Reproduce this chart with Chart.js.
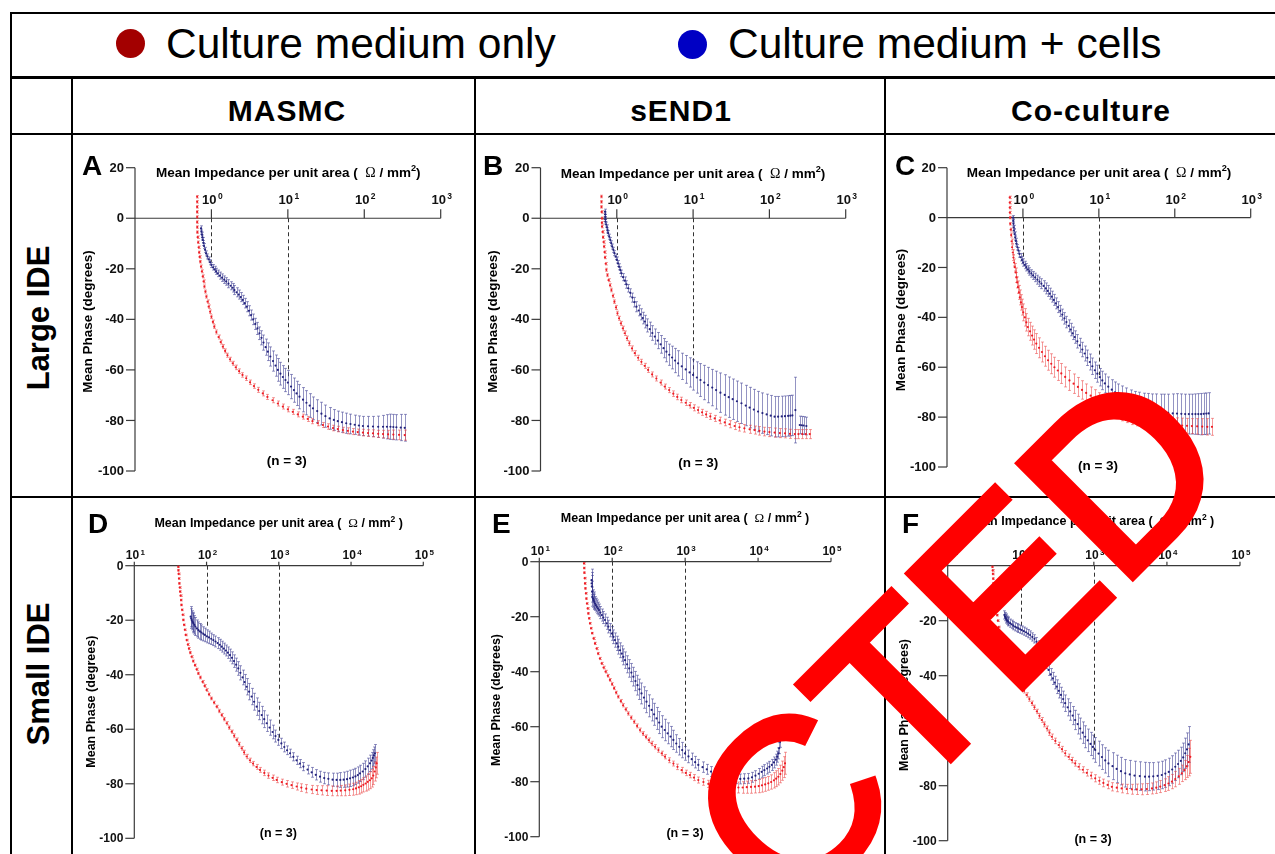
<!DOCTYPE html>
<html><head><meta charset="utf-8">
<script src="https://cdn.jsdelivr.net/npm/chart.js@4.4.1/dist/chart.umd.min.js"></script>
<style>
body{margin:0;background:#fff}
#page{position:relative;width:1275px;height:854px;overflow:hidden;background:#fff;font-family:'Liberation Sans',Arial,sans-serif;color:#000}
.ln{position:absolute;background:#000;z-index:5}
canvas.pc{position:absolute;z-index:2}
.hdr{position:absolute;font-weight:bold;font-size:30px;line-height:1;white-space:nowrap;transform:translateX(-50%);letter-spacing:1px}
.row{position:absolute;font-weight:bold;font-size:31px;line-height:1;white-space:nowrap;transform:translate(-50%,-50%) rotate(-90deg)}
.leg{position:absolute;font-size:42.5px;line-height:1;white-space:nowrap}
.dot{position:absolute;width:29px;height:29px;border-radius:50%}
</style></head>
<body><div id="page">
<div class="ln" style="left:10px;top:12px;width:1265px;height:2px"></div>
<div class="ln" style="left:10px;top:12px;width:2px;height:842px"></div>
<div class="ln" style="left:10px;top:76px;width:1265px;height:2.5px"></div>
<div class="ln" style="left:10px;top:133px;width:1265px;height:2px"></div>
<div class="ln" style="left:10px;top:496px;width:1265px;height:2px"></div>
<div class="ln" style="left:71px;top:77px;width:2px;height:777px"></div>
<div class="ln" style="left:474px;top:77px;width:2px;height:777px"></div>
<div class="ln" style="left:884px;top:77px;width:2px;height:777px"></div>
<div class="dot" style="left:116px;top:29px;background:#a30000"></div>
<div class="leg" id="leg0" style="left:166px;top:23px"></div>
<div class="dot" style="left:678px;top:29.5px;background:#0000c4"></div>
<div class="leg" id="leg1" style="left:728px;top:23px"></div>
<div class="hdr" id="h0" style="left:287px;top:96px"></div>
<div class="hdr" id="h1" style="left:681px;top:96px"></div>
<div class="hdr" id="h2" style="left:1091px;top:96px"></div>
<div class="row" id="r0" style="left:38px;top:318px"></div>
<div class="row" id="r1" style="left:38px;top:674px"></div>
<canvas class="pc" id="cA"></canvas><canvas class="pc" id="cB"></canvas><canvas class="pc" id="cC"></canvas>
<canvas class="pc" id="cD"></canvas><canvas class="pc" id="cE"></canvas><canvas class="pc" id="cF"></canvas>
<svg width="1275" height="854" style="position:absolute;left:0;top:0;z-index:10;pointer-events:none">
<text id="stamp" transform="translate(788.4,921.6) rotate(-45)" font-family="Liberation Sans, Arial, sans-serif" font-size="234" fill="#ff0000" stroke="#ff0000" stroke-width="7"></text>
</svg>
</div>
<script>
// ================= DATA =================
const seriesLabels = ['Culture medium only', 'Culture medium + cells'];
const columnLabels = ['MASMC', 'sEND1', 'Co-culture'];
const rowLabels = ['Large IDE', 'Small IDE'];
const panelLetters = ['A', 'B', 'C', 'D', 'E', 'F'];
const yTicksLarge = [20, 0, -20, -40, -60, -80, -100];
const yTicksSmall = [0, -20, -40, -60, -80, -100];
const xExpLarge = [0, 1, 2, 3];
const xExpSmall = [1, 2, 3, 4, 5];
const xAxisTitle = 'Mean Impedance per unit area';
const yAxisTitle = 'Mean Phase (degrees)';
const nLabel = '(n = 3)';
const stampText = 'CTED';

// rows: [impedance (Ω/mm²), mean phase (deg), error (deg)]
const aMedium = [[0.65,8.5,.5],[0.65,6.5,.5],[0.65,4.5,.5],[0.65,2.5,.5],[0.65,0.5,.5],[0.65,-1.5,.5],[0.652,-3.5,.5],[0.655,-5.5,.5],[0.66,-7.5,.5],[0.67,-9.5,.5],[0.68,-11.5,.5],[0.69,-13.5,.5],[0.70,-15.3,.5],[0.715,-17.2,.5],[0.73,-19.1,.6],[0.75,-21,.6],[0.77,-23,.6],[0.79,-25,.6],[0.81,-27,.6],[0.835,-29,.6],[0.86,-31,.6],[0.89,-33,.7],[0.92,-35,.7],[0.96,-37,.7],[1.0,-39,.7],[1.045,-41,.7],[1.09,-42.9,.7],[1.16,-45,.8],[1.24,-47,.8],[1.32,-49,.8],[1.41,-50.8,.8],[1.51,-52.5,.8],[1.62,-54.2,.8],[1.75,-55.8,.8],[1.9,-57.4,.8],[2.08,-59,.9],[2.3,-60.5,.9],[2.55,-62,.9],[2.85,-63.3,.9],[3.2,-64.9,.9],[3.6,-66.4,.9],[4.1,-67.9,1],[4.7,-69.3,1],[5.4,-70.7,1],[6.3,-72,1],[7.4,-73.3,1],[8.6,-74.5,1],[10,-75.6,1],[11.6,-76.6,1],[13.5,-77.6,1],[15.7,-78.5,1],[18.2,-79.4,1],[21,-80.3,1],[24.5,-81.1,1],[28.8,-81.8,1],[33.5,-82.4,1.1],[39,-83,1.1],[45,-83.4,1.1],[52.5,-83.8,1.1],[61,-84.1,1.2],[71,-84.4,1.2],[82,-84.6,1.2],[96,-84.8,1.3],[112,-85,1.3],[130,-85.1,1.4],[152,-85.3,1.4],[176,-85.4,1.5],[205,-85.5,1.6],[240,-85.6,1.8],[285,-85.7,1.9],[338,-85.8,2]];
const aCells = [[0.73,-4,1],[0.74,-5.3,1],[0.75,-6.5,1],[0.76,-7.6,1],[0.77,-8.6,1],[0.785,-9.8,1],[0.80,-11,1],[0.825,-12.5,1],[0.85,-13.9,1],[0.885,-15.1,1],[0.92,-16.3,1],[0.96,-17.4,1],[1.0,-18.5,1],[1.05,-19.4,1.1],[1.1,-20.2,1.2],[1.15,-21,1.2],[1.21,-21.8,1.3],[1.29,-22.7,1.4],[1.38,-23.5,1.5],[1.47,-24.3,1.5],[1.56,-25,1.5],[1.67,-25.9,1.6],[1.78,-26.7,1.6],[1.89,-27.5,1.7],[2.0,-28.4,1.8],[2.13,-29.3,1.8],[2.27,-30.2,1.8],[2.42,-31.2,1.8],[2.57,-32.3,1.8],[2.73,-33.6,1.9],[2.9,-35,2],[3.1,-36.6,2],[3.3,-38.3,2],[3.52,-40,2.1],[3.75,-41.8,2.2],[4.0,-43.6,2.4],[4.25,-45.5,2.5],[4.52,-47.3,2.8],[4.8,-49.2,3],[5.12,-51,3.2],[5.47,-52.8,3.5],[5.9,-54.7,3.8],[6.4,-56.5,4],[6.9,-58.3,4.2],[7.4,-60,4.5],[8.0,-61.5,4.5],[8.6,-62.8,4.5],[9.3,-64,4.6],[10,-65,4.8],[11,-66.6,4.8],[12,-68,4.8],[13,-69.3,4.8],[14.2,-70.6,4.8],[15.8,-71.8,4.8],[17.5,-73,4.8],[19.3,-74.1,4.7],[21.3,-75.2,4.5],[24.2,-76.3,4.5],[27.5,-77.3,4.5],[31,-78.3,4.4],[35.2,-79.2,4.3],[40,-79.8,4.1],[45,-80.3,4],[51,-80.7,4],[58,-81.1,4],[66,-81.4,3.9],[75,-81.7,3.8],[85,-82,3.8],[96,-82.2,3.8],[112,-82.3,3.9],[130,-82.4,4],[152,-82.5,4.2],[176,-82.5,4.5],[198,-82.5,4.8],[220,-82.5,5],[240,-82.6,5],[263,-82.7,5],[300,-82.8,5.2],[338,-82.9,5.3]];
const aDashX = [1, 10];
const aDashY = [-17.2, -62.7];

const bMedium = [[0.63,8.6,.5],[0.63,6.5,.5],[0.63,4.5,.5],[0.632,2.5,.5],[0.635,0,.5],[0.637,-1.8,.5],[0.64,-3.3,.5],[0.65,-5.4,.5],[0.66,-7.5,.5],[0.67,-9.4,.5],[0.68,-11.2,.5],[0.69,-13.4,.5],[0.70,-15.5,.5],[0.715,-18,.5],[0.73,-20.4,.6],[0.755,-22.5,.6],[0.78,-24.5,.6],[0.815,-26.5,.6],[0.85,-28.4,.7],[0.89,-30.7,.7],[0.93,-33,.7],[0.975,-35.3,.8],[1.02,-37.6,.8],[1.07,-39.6,.8],[1.13,-41.6,.8],[1.2,-43.6,.9],[1.27,-45.5,.9],[1.36,-47.5,.9],[1.46,-49.5,.9],[1.58,-51.5,1],[1.72,-53.4,1],[1.9,-55.2,1],[2.1,-56.8,1],[2.32,-58.4,1],[2.57,-60,1],[2.9,-61.8,1],[3.3,-63.4,1],[3.75,-65,1],[4.25,-66.6,1],[4.85,-68,1],[5.5,-69.4,1.1],[6.2,-70.7,1.1],[7,-71.9,1.1],[8,-73,1.1],[9,-74,1.1],[10.2,-75,1.2],[11.6,-75.9,1.2],[13.1,-76.8,1.2],[14.8,-77.6,1.2],[16.8,-78.4,1.2],[19.2,-79.2,1.2],[22.3,-80,1.3],[26,-80.8,1.3],[30,-81.5,1.4],[35,-82.2,1.4],[40.5,-82.7,1.5],[47,-83.1,1.5],[55,-83.5,1.6],[64,-83.8,1.6],[74,-84.1,1.7],[86,-84.4,1.7],[100,-84.6,1.8],[117,-84.8,1.8],[137,-85,1.8],[160,-85.1,1.8],[186,-85.3,1.8],[215,-85.4,1.8],[240,-85.4,1.8],[270,-85.4,1.8],[300,-85.4,1.8],[338,-85.4,1.8]];
const bCells = [[0.70,2.6,1],[0.702,1.5,1],[0.705,0.5,1],[0.708,-0.4,1],[0.71,-1.3,1],[0.725,-2.5,1],[0.74,-3.6,1],[0.755,-4.8,1],[0.77,-5.9,1],[0.795,-7.3,1],[0.82,-8.6,1],[0.845,-9.9,1],[0.87,-11.2,1],[0.9,-12.5,1],[0.93,-13.8,1],[0.965,-15.2,1.1],[1.0,-16.5,1.2],[1.035,-17.9,1.2],[1.07,-19.2,1.2],[1.11,-20.5,1.3],[1.15,-21.8,1.3],[1.21,-23.3,1.4],[1.27,-24.7,1.5],[1.34,-26.2,1.5],[1.41,-27.7,1.5],[1.5,-29.5,1.6],[1.6,-31.4,1.8],[1.7,-33.2,1.9],[1.81,-35,2],[1.93,-36.5,2.1],[2.05,-38,2.2],[2.19,-39.5,2.3],[2.33,-40.9,2.5],[2.5,-42.4,2.6],[2.7,-43.9,2.8],[2.92,-45.4,2.9],[3.15,-46.8,3],[3.44,-48.4,3.2],[3.75,-49.9,3.5],[4.1,-51.4,3.8],[4.47,-52.8,4],[4.87,-54,4.2],[5.3,-55.1,4.5],[5.8,-56.3,4.8],[6.36,-57.4,5],[7.1,-58.6,5.2],[8,-59.8,5.5],[9,-61,5.8],[10,-62,6],[11.2,-63,6.2],[12.5,-64,6.5],[14,-65,6.8],[15.7,-66,7],[17.8,-67,7.2],[20,-68,7.5],[22.8,-69,7.8],[26,-69.9,8],[29.3,-70.8,8],[33,-71.6,8],[37.5,-72.4,8],[43,-73.2,8],[49,-74.1,8],[55,-74.9,8],[62.5,-75.7,8],[71,-76.5,8],[81,-77.1,8],[92,-77.6,8],[104,-78.1,8],[117,-78.5,8],[130,-78.5,8],[145,-78.4,8],[160,-78.3,8],[176,-78.2,8],[188,-78.1,8],[200,-78,8],[219,-75.9,13],[250,-81.8,3.5],[265,-81.9,3.5],[280,-82,3.5],[305,-82.2,3.5]];
const bDashX = [1, 10];
const bDashY = [-14.5, -62.7];

const cMedium = [[0.67,8.1,.5],[0.67,6,.5],[0.67,4,.5],[0.672,2,.5],[0.675,0,.5],[0.68,-2.5,.5],[0.69,-4.8,.6],[0.70,-7,.8],[0.71,-9.5,.9],[0.72,-11.9,1],[0.735,-14,1.1],[0.75,-16,1.2],[0.765,-18,1.4],[0.78,-19.9,1.5],[0.80,-22,1.8],[0.82,-24,2],[0.84,-26,2.2],[0.86,-27.9,2.5],[0.885,-30,2.8],[0.91,-32,3],[0.94,-34,3.1],[0.97,-35.9,3.2],[1.01,-38,3.4],[1.06,-40,3.5],[1.11,-42,3.5],[1.16,-43.9,3.5],[1.24,-45.6,3.6],[1.32,-47.3,3.8],[1.4,-48.9,3.9],[1.5,-50.5,4],[1.63,-52.2,4],[1.78,-53.9,4],[1.95,-55.6,4],[2.14,-57.2,4],[2.36,-58.6,4],[2.6,-60,4],[2.88,-61.3,4],[3.2,-62.5,4],[3.6,-63.9,4],[4.1,-65.3,4],[4.65,-66.6,3.9],[5.3,-67.9,3.8],[6,-69.1,3.7],[6.8,-70.3,3.6],[7.8,-71.4,3.5],[8.85,-72.5,3.5],[10,-73.6,3.4],[11.4,-74.6,3.4],[12.9,-75.6,3.3],[14.7,-76.5,3.3],[17.2,-77.4,3.2],[20,-78.3,3.2],[23.3,-79.1,3.1],[27,-79.9,3.1],[31.5,-80.5,3],[37,-81,3],[43,-81.5,3],[49.7,-81.9,3],[58,-82.3,3],[67,-82.6,3],[78,-82.9,3],[91,-83.2,3],[107,-83.3,3],[125,-83.4,3],[145,-83.5,3],[168,-83.6,3],[197,-83.7,3.1],[230,-83.8,3.2],[268,-83.9,3.3],[309,-83.9,3.4]];
const cCells = [[0.74,0,.8],[0.745,-1.3,.8],[0.75,-2.5,.8],[0.755,-3.9,.8],[0.76,-5.2,.8],[0.775,-6.6,.9],[0.79,-8,1],[0.805,-9.3,1],[0.82,-10.5,1],[0.845,-11.9,1.1],[0.87,-13.2,1.2],[0.9,-14.6,1.3],[0.93,-15.9,1.5],[0.97,-17,1.5],[1.01,-18,1.5],[1.06,-19,1.5],[1.11,-19.9,1.5],[1.16,-20.8,1.5],[1.22,-21.6,1.5],[1.29,-22.4,1.5],[1.36,-23.2,1.6],[1.45,-24,1.7],[1.55,-24.9,1.8],[1.65,-25.7,1.9],[1.75,-26.5,2],[1.87,-27.4,2.1],[2.0,-28.4,2.2],[2.12,-29.4,2.2],[2.25,-30.5,2.2],[2.4,-31.7,2.2],[2.55,-33,2.2],[2.72,-34.4,2.2],[2.9,-35.9,2.2],[3.1,-37.4,2.2],[3.3,-38.9,2.2],[3.52,-40.4,2.3],[3.74,-41.9,2.3],[4.0,-43.4,2.4],[4.25,-44.9,2.5],[4.52,-46.4,2.5],[4.82,-47.9,2.5],[5.2,-49.6,2.7],[5.6,-51.2,2.8],[6.05,-52.9,2.9],[6.5,-54.5,3],[7.05,-56.2,3.1],[7.6,-57.9,3.2],[8.2,-59.6,3.3],[8.85,-61.2,3.3],[9.55,-62.6,3.4],[10.3,-64,3.5],[11.1,-65.3,3.7],[12,-66.5,3.8],[13.3,-67.8,3.9],[14.8,-69,4],[16.3,-70.1,4.2],[18,-71.2,4.5],[20.3,-72.3,4.8],[23,-73.3,5],[26.3,-74.3,5.2],[29.9,-75.2,5.5],[34,-75.8,5.8],[39,-76.4,6],[44,-76.8,6.3],[49.7,-77.2,6.5],[57,-77.5,6.8],[65,-77.8,7],[73,-78.1,7.3],[82,-78.3,7.5],[94,-78.5,7.8],[107,-78.6,8],[122,-78.7,8],[137,-78.8,8],[153,-78.8,8],[170,-78.8,8],[187,-78.8,8.1],[204,-78.8,8.2],[222,-78.8,8.3],[240,-78.7,8.3],[260,-78.6,8.3],[279,-78.5,8.3]];
const cDashX = [1, 10];
const cDashY = [-16.9, -63.2];

const dMedium = [[40.6,-0.4,.3],[40.8,-1.7,.3],[41,-3,.3],[41.5,-4.7,.3],[42,-6.5,.3],[42.5,-8,.3],[43,-9.5,.3],[43.6,-11,.3],[44.3,-12.6,.3],[45,-14.4,.3],[45.8,-16.2,.3],[46.7,-18,.3],[47.7,-19.9,.3],[48.8,-21.7,.3],[50,-23.5,.3],[51.4,-25.4,.3],[53,-27.3,.3],[55,-28.9,.4],[57,-30.4,.4],[59.5,-31.9,.4],[62,-33.4,.4],[65.3,-35,.4],[69,-36.5,.4],[72.8,-38,.4],[77,-39.5,.4],[82.3,-41,.5],[88,-42.6,.5],[94,-44.1,.5],[100,-45.6,.5],[108,-47.2,.5],[117,-48.7,.5],[127,-50.2,.5],[138,-51.7,.5],[150,-53.3,.6],[162,-54.8,.6],[176,-56.3,.6],[190,-57.8,.6],[206,-59.4,.6],[223,-60.9,.6],[241,-62.4,.7],[261,-63.9,.7],[283,-65.5,.7],[306,-67,.7],[331,-68.5,.8],[359,-70,.8],[398,-71.4,.8],[440,-72.6,.8],[492,-73.8,.9],[549,-74.9,.9],[630,-76,1],[720,-77,1],[820,-77.8,1],[935,-78.6,1],[1100,-79.4,1.1],[1280,-80,1.2],[1500,-80.5,1.2],[1766,-81,1.3],[2050,-81.4,1.4],[2400,-81.8,1.5],[2850,-82.1,1.5],[3340,-82.3,1.6],[3900,-82.4,1.7],[4600,-82.5,1.8],[5400,-82.6,1.8],[6310,-82.6,1.8],[7200,-82.5,1.9],[8300,-82.4,2],[9500,-82.2,2.1],[10700,-82,2.2],[11700,-81.7,2.3],[12800,-81.3,2.5],[13800,-80.9,2.5],[14800,-80.4,2.6],[15900,-79.9,2.8],[17000,-79.3,3],[18200,-78.7,3.1],[19300,-78,3.2],[20300,-77,3.3],[21200,-75.5,3.5],[22000,-74,3.8],[22600,-72.5,4]];
const dCells = [[60.3,-18.7,3.7],[61.3,-19.4,3.6],[62.5,-20,3.5],[64,-20.6,3.5],[65.6,-21.1,3.5],[67.7,-21.7,3.4],[70,-22.3,3.3],[73.4,-23,3.1],[77,-23.6,3],[81,-24.1,2.9],[85,-24.5,2.8],[90,-25,2.6],[95,-25.4,2.5],[101,-25.9,2.4],[108,-26.3,2.3],[116,-26.8,2.1],[124,-27.3,2],[133,-27.8,2],[142,-28.4,2],[152,-29,2],[162,-29.7,2],[173,-30.4,2],[185,-31.1,2],[197,-31.9,2.1],[211,-32.8,2.2],[225,-33.8,2.2],[240,-35,2.3],[257,-36.3,2.4],[275,-37.7,2.5],[294,-39.3,2.6],[315,-41,2.7],[336,-42.7,2.8],[359,-44.4,3],[388,-46.2,3],[420,-48,3],[455,-49.9,3.1],[494,-51.7,3.2],[535,-53.3,3.2],[580,-54.8,3.2],[628,-56.3,3.1],[680,-57.8,3],[745,-59.4,2.8],[820,-61,2.5],[900,-62.5,2.2],[986,-63.9,2],[1085,-65.2,1.9],[1190,-66.5,1.8],[1300,-67.7,1.6],[1430,-68.8,1.5],[1590,-70.1,1.5],[1760,-71.4,1.5],[1960,-72.6,1.5],[2190,-73.7,1.5],[2500,-74.8,1.6],[2850,-75.8,1.8],[3250,-76.7,1.9],[3720,-77.4,2],[4250,-77.9,2.1],[4850,-78.2,2.2],[5550,-78.5,2.4],[6310,-78.6,2.5],[7100,-78.6,2.7],[7900,-78.5,2.8],[8800,-78.3,2.9],[9680,-78,3],[10600,-77.7,3],[11500,-77.3,3],[12400,-76.8,3],[13300,-76.2,3],[14500,-75.5,3],[15800,-74.6,3],[17000,-73.6,3],[18300,-72.5,3],[19200,-71.5,3],[20000,-70.5,3],[20700,-69.6,3.1],[21400,-68.8,3.2]];
const dDashX = [100, 1000];
const dDashY = [-23, -64];

const eMedium = [[41,-0.6,.3],[41.2,-2.3,.3],[41.5,-4,.3],[41.9,-6,.3],[42.3,-7.9,.3],[42.9,-9.7,.3],[43.5,-11.5,.3],[44.2,-13.4,.3],[45,-15.2,.3],[46,-17,.3],[47,-18.8,.3],[48.2,-20.6,.3],[49.5,-22.4,.3],[51.2,-24.2,.3],[53,-26,.3],[55.4,-27.9,.4],[58,-29.7,.4],[61,-31.6,.4],[64,-33.4,.4],[67.7,-35.2,.4],[71.6,-37,.4],[76,-38.5,.5],[81,-40,.5],[87,-41.5,.5],[93,-43,.5],[99.5,-44.5,.5],[106,-46,.5],[113,-47.6,.5],[121,-49.1,.5],[131,-50.7,.6],[141,-52.2,.6],[153,-53.7,.6],[166,-55.2,.6],[182,-56.7,.6],[200,-58.2,.6],[219,-59.7,.7],[240,-61.2,.7],[264,-62.5,.7],[290,-63.7,.7],[317,-64.9,.8],[347,-66.1,.8],[386,-67.3,.8],[430,-68.5,.8],[477,-69.7,.8],[528,-70.9,.8],[605,-72.2,.9],[690,-73.4,.9],[785,-74.6,1],[895,-75.8,1],[1020,-76.8,1],[1160,-77.6,1],[1320,-78.5,1.1],[1514,-79.4,1.1],[1780,-80.1,1.2],[2080,-80.8,1.3],[2440,-81.3,1.4],[2850,-81.8,1.5],[3330,-82,1.6],[3900,-82.1,1.8],[4580,-82.1,1.9],[5370,-82.1,2],[6150,-82.1,2.1],[7000,-82,2.2],[8000,-81.9,2.3],[9080,-81.8,2.3],[10200,-81.6,2.4],[11300,-81.3,2.5],[12500,-81,2.5],[13800,-80.6,2.5],[15100,-80.1,2.6],[16500,-79.5,2.8],[17700,-78.9,2.9],[18960,-78.2,3],[20200,-77.2,3.2],[21500,-76,3.5],[22500,-74.7,3.8],[23400,-73.3,4]];
const eCells = [[52,-6.7,4],[52.2,-7.9,4],[52.5,-9,4],[52.9,-10.9,3.8],[53.4,-12.7,3.5],[54.4,-13.4,3.2],[55.5,-14,3],[56.7,-14.6,2.8],[58,-15.2,2.5],[59.7,-15.8,2.5],[61.5,-16.4,2.5],[63.6,-17,2.3],[65.8,-17.6,2.2],[68.8,-18.5,2.2],[72,-19.4,2.2],[75.6,-20.3,2.2],[79.5,-21.2,2.2],[84,-22.4,2.2],[88.5,-23.6,2.3],[93.5,-24.9,2.4],[98.8,-26.1,2.5],[104,-27.3,2.5],[109,-28.5,2.6],[115,-29.7,2.6],[121,-30.9,2.7],[128,-32.2,2.7],[135,-33.4,2.8],[142,-34.6,2.9],[150,-35.8,3],[160,-37.3,3.1],[171,-38.8,3.2],[183,-40.3,3.3],[195,-41.8,3.4],[208,-43.4,3.5],[222,-44.9,3.6],[236,-46.4,3.7],[252,-47.9,3.8],[272,-49.4,3.9],[295,-50.9,4],[320,-52.4,4],[347,-53.9,4],[375,-55.5,4],[405,-57,4],[440,-58.5,4],[476,-60,4],[525,-61.2,3.9],[575,-62.4,3.8],[630,-63.6,3.7],[689,-64.8,3.5],[755,-66.1,3.2],[830,-67.3,3],[910,-68.5,2.8],[995,-69.7,2.5],[1110,-70.8,2.3],[1230,-71.8,2.2],[1370,-72.9,2.1],[1514,-73.9,2],[1730,-74.7,1.9],[1980,-75.5,1.8],[2260,-76.3,1.8],[2570,-77,1.8],[2930,-77.5,1.8],[3350,-78,1.8],[3820,-78.4,1.8],[4350,-78.8,1.8],[4980,-78.9,1.8],[5700,-79,1.8],[6450,-78.9,1.8],[7350,-78.8,1.8],[8250,-78.4,1.8],[9200,-77.8,1.8],[10200,-77.1,1.9],[11200,-76.4,2],[12200,-75.8,2],[13300,-75.2,2],[14300,-74.6,2],[15400,-73.9,2],[16500,-73,2],[17500,-72,2],[18300,-70.9,2],[19000,-69.7,2],[19500,-67.8,2],[20000,-65.5,2]];
const eDashX = [100, 1000];
const eDashY = [-27, -71.5];

const fMedium = [[41,-0.4,.3],[41.2,-1.7,.3],[41.5,-3,.3],[41.9,-4.7,.3],[42.3,-6.4,.3],[42.9,-8.2,.3],[43.5,-10,.3],[44.2,-11.5,.3],[45,-13,.3],[45.7,-14.5,.3],[46.5,-16,.3],[47.5,-18,.3],[48.5,-20,.3],[49.7,-22.3,.3],[51,-24.6,.3],[53,-26.6,.4],[55,-28.5,.4],[58,-30.5,.4],[61,-32.5,.4],[64.8,-34.5,.4],[69,-36.5,.5],[74,-38.3,.5],[79,-40,.6],[84.5,-41,.6],[90,-42,.7],[96,-43,.7],[103,-44,.8],[111,-45.5,.8],[120,-47,.8],[131,-48.5,.8],[142,-50,.8],[154,-51.5,.8],[166,-53,.8],[180,-54.6,.9],[194,-56.1,.9],[211,-57.7,.9],[228,-59.2,.9],[247,-60.7,1],[266,-62.2,1],[297,-63.7,1],[330,-65.2,1],[366,-66.7,1],[405,-68.2,1],[450,-69.5,1],[500,-70.7,1],[555,-71.9,1],[617,-73.1,1.1],[705,-74.2,1.1],[800,-75.3,1.2],[915,-76.3,1.2],[1043,-77.3,1.3],[1190,-78.2,1.3],[1350,-79,1.4],[1545,-79.7,1.4],[1765,-80.4,1.5],[2060,-80.7,1.5],[2400,-81,1.6],[2820,-81.2,1.7],[3310,-81.3,1.8],[3860,-81.3,1.9],[4500,-81.3,2],[5300,-81.2,2],[6240,-81,2],[7150,-80.7,2.1],[8100,-80.3,2.2],[9300,-79.8,2.3],[10500,-79.2,2.5],[11700,-78.5,2.6],[13000,-77.6,2.8],[14500,-76.6,2.9],[16000,-75.5,3],[17400,-74.3,3.5],[18700,-73,4],[19800,-71.4,5],[20900,-69.5,6]];
const fCells = [[59.7,-17.9,1.5],[60.8,-18.5,1.5],[62,-19,1.5],[63.2,-19.4,1.5],[64.5,-19.8,1.5],[66,-20.1,1.5],[67.8,-20.4,1.5],[71.3,-20.9,1.5],[75,-21.3,1.5],[79,-21.8,1.5],[83.6,-22.2,1.5],[88,-22.5,1.5],[93,-22.8,1.5],[98,-23.1,1.5],[103,-23.4,1.5],[110,-23.8,1.5],[118,-24.2,1.5],[126,-24.7,1.5],[134,-25.2,1.5],[144,-25.9,1.5],[154,-26.6,1.5],[164,-27.6,1.5],[175,-28.8,1.5],[190,-30.8,1.6],[205,-33,1.8],[222,-35.5,1.9],[240,-37.9,2],[257,-39.5,2.1],[275,-41,2.2],[292,-42.5,2.3],[311,-44,2.5],[332,-45.5,2.6],[355,-47,2.8],[380,-48.5,2.9],[405,-50,3],[438,-51.5,3.1],[475,-53,3.2],[513,-54.5,3.3],[555,-56.1,3.5],[600,-57.6,3.6],[650,-59.2,3.8],[703,-60.7,3.9],[760,-62.2,4],[825,-63.5,4.1],[900,-64.8,4.2],[970,-65.9,4.3],[1043,-67,4.5],[1160,-68.3,4.5],[1290,-69.6,4.5],[1430,-70.8,4.6],[1585,-71.9,4.8],[1800,-72.9,4.9],[2050,-73.9,5],[2350,-74.7,5],[2690,-75.5,5],[3100,-75.9,5.1],[3600,-76.3,5.2],[4250,-76.5,5.2],[5010,-76.7,5.2],[5700,-76.7,5.1],[6500,-76.6,5],[7450,-76.4,5],[8500,-76.1,5],[9500,-75.6,5],[10600,-75,5],[11800,-74.1,5],[13000,-73.1,5],[14200,-72.1,5],[15500,-71,5],[16700,-69.7,5.2],[17800,-68.2,5.5],[18800,-66.8,6],[19800,-65,6.5]];
const fDashX = [100, 1000];
const fDashY = [-22, -67];

// ================= LAYOUT / STYLE =================
const SANS = "'Liberation Sans', Arial, sans-serif";
const SERIF = "'Liberation Serif', 'Times New Roman', serif";
const MED_PT = '#ee1c24', MED_ERR = 'rgba(235,60,60,0.5)';
const CELL_PT = '#23237d', CELL_ERR = 'rgba(60,60,145,0.55)';

const topStyle = {tickFont:13, yTickLen:9, xTickLen:9, xLabelOff:14, supFont:8.5, supRise:5, titleFont:13.5, yTitleFont:13.5, nFont:13.5, bottomRow:false};
const botStyle = {tickFont:12, yTickLen:9, xTickLen:4, xLabelOff:6.5, supFont:8, supRise:4.5, titleFont:12.5, yTitleFont:12.5, nFont:12.5, bottomRow:true};

const panels = [
  {id:'cA', letter:panelLetters[0], med:aMedium, cells:aCells, dashX:aDashX, dashY:aDashY, xMin:0.1, xMax:1000, yMin:-100, yMax:20, yTicks:yTicksLarge, xExp:xExpLarge, style:topStyle,
   canvas:[73,135,401,361], plot:[135,167.7,440.7,471], letterPos:[82,175], xTitlePos:[288.3,172.3], yTitlePos:[88.3,321.5], nPos:[286.7,461.7]},
  {id:'cB', letter:panelLetters[1], med:bMedium, cells:bCells, dashX:bDashX, dashY:bDashY, xMin:0.1, xMax:1000, yMin:-100, yMax:20, yTicks:yTicksLarge, xExp:xExpLarge, style:topStyle,
   canvas:[476,135,408,361], plot:[540.5,167.7,845.7,471], letterPos:[483,175], xTitlePos:[693,173], yTitlePos:[493.3,321.5], nPos:[698.3,463.3]},
  {id:'cC', letter:panelLetters[2], med:cMedium, cells:cCells, dashX:cDashX, dashY:cDashY, xMin:0.1, xMax:1000, yMin:-100, yMax:20, yTicks:yTicksLarge, xExp:xExpLarge, style:topStyle,
   canvas:[886,135,389,361], plot:[947,167.7,1250.7,467], letterPos:[895,175], xTitlePos:[1099,172.3], yTitlePos:[901.7,320], nPos:[1098,466.7]},
  {id:'cD', letter:panelLetters[3], med:dMedium, cells:dCells, dashX:dDashX, dashY:dDashY, xMin:10, xMax:100000, yMin:-100, yMax:0, yTicks:yTicksSmall, xExp:xExpSmall, style:botStyle,
   canvas:[73,498,401,356], plot:[134.3,565.7,423.3,838.3], letterPos:[88,533], xTitlePos:[278.7,522.3], yTitlePos:[91.7,701.7], nPos:[278.3,833.3]},
  {id:'cE', letter:panelLetters[4], med:eMedium, cells:eCells, dashX:eDashX, dashY:eDashY, xMin:10, xMax:100000, yMin:-100, yMax:0, yTicks:yTicksSmall, xExp:xExpSmall, style:botStyle,
   canvas:[476,498,408,356], plot:[539.3,561.7,831,836.7], letterPos:[492,533], xTitlePos:[685,517.3], yTitlePos:[496.7,700], nPos:[685,833.3]},
  {id:'cF', letter:panelLetters[5], med:fMedium, cells:fCells, dashX:fDashX, dashY:fDashY, xMin:10, xMax:100000, yMin:-100, yMax:0, yTicks:yTicksSmall, xExp:xExpSmall, style:botStyle,
   canvas:[886,498,389,356], plot:[947.7,565.7,1240,840.7], letterPos:[902,533], xTitlePos:[1090,520.7], yTitlePos:[905,705], nPos:[1093,839.3]}
];

// ================= HTML TEXT =================
document.getElementById('leg0').textContent = seriesLabels[0];
document.getElementById('leg1').textContent = seriesLabels[1];
columnLabels.forEach((t,i)=>document.getElementById('h'+i).textContent = t);
rowLabels.forEach((t,i)=>document.getElementById('r'+i).textContent = t);
document.getElementById('stamp').textContent = stampText;

// ================= DRAW HELPERS =================
function drawRich(ctx, segs, cx, by) {
  let w = 0;
  segs.forEach(s => { ctx.font = s.f; s.w = ctx.measureText(s.t).width; w += s.w; });
  let x = cx - w / 2;
  ctx.textAlign = 'left'; ctx.textBaseline = 'alphabetic';
  segs.forEach(s => { ctx.font = s.f; ctx.fillText(s.t, x, by - (s.dy || 0)); x += s.w; });
}

function decorPlugin(p) {
  const st = p.style;
  const ox = p.canvas[0], oy = p.canvas[1];
  return {
    id: 'decor' + p.letter,
    beforeDatasetsDraw(chart) {
      const ctx = chart.ctx, xs = chart.scales.x, ys = chart.scales.y;
      ctx.save();
      ctx.strokeStyle = '#3a3a3a'; ctx.lineWidth = 1.2;
      const ax = xs.getPixelForValue(p.xMin);
      const yTop = ys.getPixelForValue(p.yMax), yBot = ys.getPixelForValue(p.yMin);
      const y0 = ys.getPixelForValue(0);
      ctx.beginPath(); ctx.moveTo(ax, yTop); ctx.lineTo(ax, yBot); ctx.stroke();
      ctx.beginPath(); ctx.moveTo(ax, y0); ctx.lineTo(xs.getPixelForValue(p.xMax), y0); ctx.stroke();
      ctx.fillStyle = '#111';
      ctx.font = 'bold ' + st.tickFont + 'px ' + SANS;
      ctx.textAlign = 'right'; ctx.textBaseline = 'middle';
      p.yTicks.forEach(v => {
        const py = ys.getPixelForValue(v);
        ctx.beginPath(); ctx.moveTo(ax - st.yTickLen, py); ctx.lineTo(ax, py); ctx.stroke();
        ctx.fillText(String(v), ax - st.yTickLen - 2, py + 0.5);
      });
      p.xExp.forEach(e => {
        const px = xs.getPixelForValue(Math.pow(10, e));
        ctx.beginPath(); ctx.moveTo(px, y0); ctx.lineTo(px, y0 - st.xTickLen); ctx.stroke();
        drawRich(ctx, [
          {t:'10', f:'bold ' + st.tickFont + 'px ' + SANS},
          {t:' ', f:'bold ' + (st.supFont*0.6) + 'px ' + SANS},
          {t:String(e), f:'bold ' + st.supFont + 'px ' + SANS, dy:st.supRise}
        ], px + 1, y0 - st.xLabelOff);
      });
      ctx.setLineDash([4, 3]); ctx.strokeStyle = '#333'; ctx.lineWidth = 1;
      p.dashX.forEach((dx, i) => {
        const px = Math.round(xs.getPixelForValue(dx)) + 0.5;
        ctx.beginPath(); ctx.moveTo(px, y0); ctx.lineTo(px, ys.getPixelForValue(p.dashY[i])); ctx.stroke();
      });
      ctx.setLineDash([]);
      [1, 0].forEach(di => {
        const ds = chart.data.datasets[di];
        ctx.strokeStyle = ds.errColor; ctx.lineWidth = 1;
        ds.data.forEach((pt, i) => {
          const e = ds.errors[i];
          const px = Math.round(xs.getPixelForValue(pt.x)) + 0.5;
          const y1 = ys.getPixelForValue(pt.y + e), y2 = ys.getPixelForValue(pt.y - e);
          ctx.beginPath();
          ctx.moveTo(px, y1); ctx.lineTo(px, y2);
          ctx.moveTo(px - 1.5, y1); ctx.lineTo(px + 1.5, y1);
          ctx.moveTo(px - 1.5, y2); ctx.lineTo(px + 1.5, y2);
          ctx.stroke();
        });
      });
      ctx.restore();
    },
    afterDraw(chart) {
      const ctx = chart.ctx;
      ctx.save();
      ctx.fillStyle = '#000';
      ctx.font = 'bold 28px ' + SANS; ctx.textAlign = 'left'; ctx.textBaseline = 'alphabetic';
      ctx.fillText(p.letter, p.letterPos[0] - ox, p.letterPos[1] - oy);
      const tf = st.titleFont;
      const segs = [
        {t:xAxisTitle + ' (  ', f:'bold ' + tf + 'px ' + SANS},
        {t:'\u03A9', f:(tf + 0.5) + 'px ' + SERIF},
        {t:' / mm', f:'bold ' + tf + 'px ' + SANS},
        {t:'2', f:'bold ' + (tf * 0.68) + 'px ' + SANS, dy: tf * 0.42},
        {t: st.bottomRow ? ' )' : ')', f:'bold ' + tf + 'px ' + SANS}
      ];
      drawRich(ctx, segs, p.xTitlePos[0] - ox, p.xTitlePos[1] - oy + tf * 0.36);
      ctx.save();
      ctx.translate(p.yTitlePos[0] - ox, p.yTitlePos[1] - oy);
      ctx.rotate(-Math.PI / 2);
      ctx.font = 'bold ' + st.yTitleFont + 'px ' + SANS;
      ctx.textAlign = 'center'; ctx.textBaseline = 'middle';
      ctx.fillText(yAxisTitle, 0, 0);
      ctx.restore();
      ctx.font = 'bold ' + st.nFont + 'px ' + SANS;
      ctx.textAlign = 'center'; ctx.textBaseline = 'middle';
      ctx.fillText(nLabel, p.nPos[0] - ox, p.nPos[1] - oy);
      ctx.restore();
    }
  };
}

// ================= CHARTS =================
panels.forEach(p => {
  const cv = document.getElementById(p.id);
  const [cl, ct, cw, ch] = p.canvas;
  cv.width = cw; cv.height = ch;
  cv.style.left = cl + 'px'; cv.style.top = ct + 'px';
  cv.style.width = cw + 'px'; cv.style.height = ch + 'px';
  const pad = {left: p.plot[0] - cl, top: p.plot[1] - ct, right: (cl + cw) - p.plot[2], bottom: (ct + ch) - p.plot[3]};
  const toXY = rows => rows.map(r => ({x: r[0], y: r[1]}));
  const toErr = rows => rows.map(r => r[2]);
  new Chart(cv.getContext('2d'), {
    type: 'scatter',
    data: {
      datasets: [
        {label: seriesLabels[0], data: toXY(p.med), errors: toErr(p.med), errColor: MED_ERR,
         pointRadius: 1.1, pointBorderWidth: 0, pointBackgroundColor: MED_PT, showLine: false},
        {label: seriesLabels[1], data: toXY(p.cells), errors: toErr(p.cells), errColor: CELL_ERR,
         pointRadius: 1.1, pointBorderWidth: 0, pointBackgroundColor: CELL_PT, showLine: false}
      ]
    },
    options: {
      responsive: false, animation: false, devicePixelRatio: 1,
      layout: {padding: pad},
      plugins: {legend: {display: false}, tooltip: {enabled: false}, title: {display: false}},
      scales: {
        x: {type: 'logarithmic', min: p.xMin, max: p.xMax, display: false},
        y: {type: 'linear', min: p.yMin, max: p.yMax, display: false}
      }
    },
    plugins: [decorPlugin(p)]
  });
});
</script>
</body></html>
